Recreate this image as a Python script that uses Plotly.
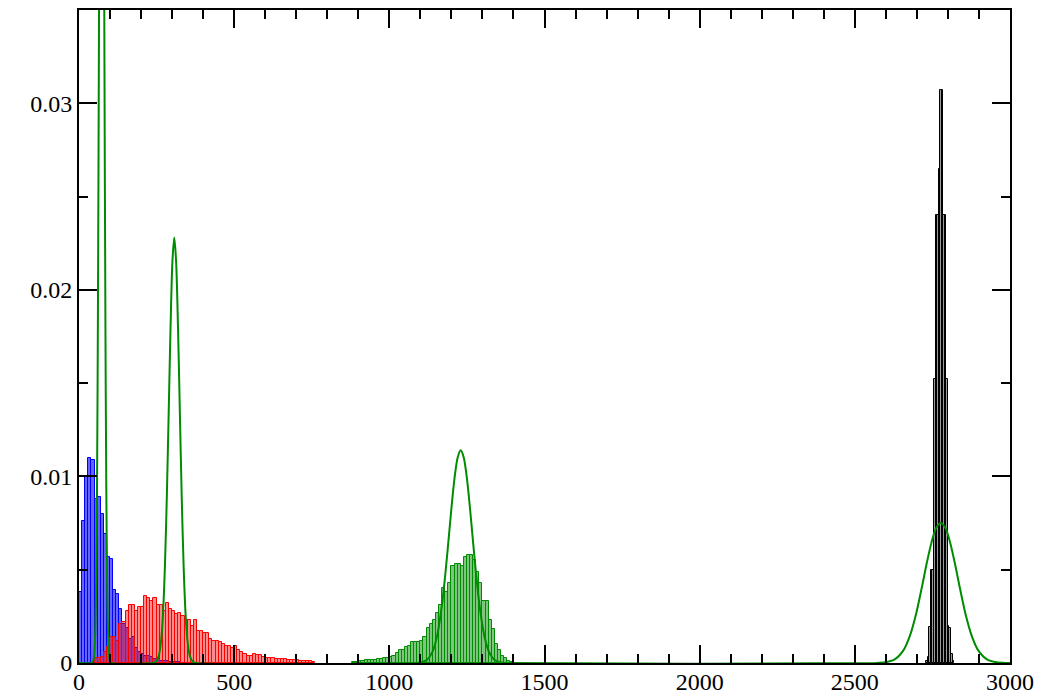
import numpy as np
import plotly.graph_objects as go

# ---------------- data ----------------
blue_start, blue_width = 0, 10
blue_vals = [0.0038, 0.0076, 0.0100, 0.0110, 0.0109, 0.0088, 0.0089, 0.0080, 0.0069, 0.0057,
             0.0056, 0.0039, 0.0037, 0.0029, 0.0021, 0.0019, 0.0013, 0.0014, 0.0008, 0.0006,
             0.0005, 0.0004, 0.0004, 0.0003, 0.0002, 0.0002, 0.0001, 0.0001, 0.0001, 0.00005,
             0.00005, 0.00003, 0.00003, 0.00002]

red_start, red_width = 50, 10
red_vals = [0.00025, 0.00025, 0.00034, 0.0006, 0.00088, 0.0014, 0.0014, 0.0012, 0.0021, 0.0022,
            0.0028, 0.0031, 0.0031, 0.0028, 0.0030, 0.0030, 0.0036, 0.0035, 0.0033, 0.0035,
            0.0031, 0.0031, 0.0028, 0.0032, 0.0029, 0.0028, 0.0026, 0.0027, 0.0025, 0.0023,
            0.0023, 0.0020, 0.0023, 0.0017, 0.0017, 0.0016, 0.0016, 0.0013, 0.0012, 0.0012,
            0.0011, 0.0010, 0.0009, 0.0009, 0.0008, 0.0009, 0.0007, 0.0006, 0.0005, 0.0004,
            0.0004, 0.0005, 0.00045, 0.00045, 0.0003, 0.00025, 0.00025, 0.00025, 0.0002, 0.0002,
            0.0002, 0.0002, 0.00015, 0.00014, 0.00014, 0.00014, 0.00012, 0.0001, 0.0001, 0.0001,
            0.00005]

green_start, green_width = 880, 10
green_vals = [0.00005, 0.00005, 0.0001, 0.0001, 0.00015, 0.00016, 0.00016, 0.00016, 0.0002, 0.0002,
              0.00025, 0.00025, 0.0003, 0.0004, 0.00055, 0.0007, 0.0007, 0.00084, 0.0009, 0.0011,
              0.00114, 0.00114, 0.0012, 0.0014, 0.0019, 0.0021, 0.0023, 0.0027, 0.0031, 0.0040,
              0.0038, 0.0043, 0.0052, 0.0053, 0.0053, 0.0052, 0.0057, 0.0058, 0.0058, 0.0055,
              0.0049, 0.0043, 0.0033, 0.0033, 0.0023, 0.0018, 0.0010, 0.0007, 0.0004, 0.00025,
              0.0001, 0.00005]

black_start, black_width = 2730, 5
black_vals = [0.0001, 0.0003, 0.00195, 0.0050, 0.0050, 0.0152, 0.0240, 0.0240, 0.0265, 0.0307,
              0.0307, 0.0240, 0.0240, 0.0152, 0.0020, 0.0019, 0.0005, 0.0001]

curve_a_x = [0, 41, 46, 49, 52, 55, 58, 61, 64, 67, 70, 73, 76, 79, 82, 85, 88, 91, 94, 97, 100, 105]
curve_a_y = [0, 0.00001, 0.00012, 0.00044, 0.00143, 0.00393, 0.00927, 0.0187, 0.0322, 0.0476, 0.0601,
             0.065, 0.0601, 0.0476, 0.0322, 0.0187, 0.00927, 0.00393, 0.00143, 0.00044, 0.00012, 0.00001]

curve_b_x = [237, 247, 257, 265, 271, 277, 283, 289, 295, 301, 307, 313, 319, 325, 331, 337,
             343, 349, 357, 367, 377]
curve_b_y = [0, 0.000064, 0.000385, 0.00128, 0.00275, 0.00525, 0.0089, 0.01343, 0.0180, 0.0215, 0.0228,
             0.0215, 0.0180, 0.01343, 0.0089, 0.00525, 0.00275, 0.00128, 0.000385, 0.000064, 0]

curve_c_x = [1080, 1100, 1120, 1140, 1155, 1170, 1180, 1190, 1200, 1210, 1220, 1230, 1240, 1250,
             1260, 1270, 1280, 1290, 1305, 1320, 1340, 1360, 1380]
curve_c_y = [0, 0.000028, 0.000155, 0.00064, 0.00154, 0.00317, 0.00469, 0.00645, 0.00828, 0.00989,
             0.0110, 0.0114, 0.0110, 0.00989, 0.00828, 0.00645, 0.00469, 0.00317, 0.00154, 0.00064,
             0.000155, 0.000028, 0]

curve_d_x = [2567, 2597, 2627, 2657, 2677, 2697, 2717, 2732, 2747, 2762, 2777, 2792, 2807, 2822,
             2837, 2857, 2877, 2897, 2927, 2957, 2987, 3000]
curve_d_y = [0, 0.000035, 0.00018, 0.00069, 0.00144, 0.0026, 0.00414, 0.00537, 0.00646, 0.00723, 0.0075,
             0.00723, 0.00646, 0.00537, 0.00414, 0.0026, 0.00144, 0.00069, 0.00018, 0.000035, 0, 0]

# ---------------- figure ----------------
fig = go.Figure()


def add_hist(start, width, vals, fill, line):
    centers = start + width * (np.arange(len(vals)) + 0.5)
    fig.add_trace(go.Bar(
        x=centers, y=vals, width=width,
        marker=dict(color=fill, line=dict(color=line, width=1)),
        hoverinfo="skip",
    ))


add_hist(blue_start, blue_width, blue_vals, "rgba(0,0,255,0.6)", "#0000ff")
add_hist(red_start, red_width, red_vals, "rgba(255,0,0,0.45)", "#ff0000")
add_hist(green_start, green_width, green_vals, "rgba(0,140,0,0.5)", "#008c00")
add_hist(black_start, black_width, black_vals, "rgba(90,90,90,0.6)", "#000000")

curve_x = curve_a_x + curve_b_x + curve_c_x + curve_d_x
curve_y = curve_a_y + curve_b_y + curve_c_y + curve_d_y
fig.add_trace(go.Scatter(
    x=curve_x, y=curve_y, mode="lines",
    line=dict(color="#008c00", width=2, shape="spline", smoothing=0.8),
    hoverinfo="skip",
))

axis_common = dict(
    showgrid=False, zeroline=False, automargin=False,
    showline=True, linecolor="black", linewidth=2, mirror="allticks",
    ticks="inside", ticklen=18, tickwidth=1.5, tickcolor="black",
    tickfont=dict(family="Liberation Serif", size=24, color="black"),
)

fig.update_xaxes(range=[0, 3000], tick0=0, dtick=500, ticklabelstandoff=-4,
                 minor=dict(dtick=100, ticks="inside", ticklen=9, tickwidth=1.5,
                            tickcolor="black", showgrid=False),
                 **axis_common)
fig.update_yaxes(range=[0, 0.035], tick0=0, dtick=0.01,
                 minor=dict(dtick=0.005, ticks="inside", ticklen=9, tickwidth=1.5,
                            tickcolor="black", showgrid=False),
                 **axis_common)

# the page body adds an 8px offset; compensate so the plot area lands at 79..1010 x 10..663
fig.update_layout(
    width=1056, height=688,
    margin=dict(l=71, r=54, t=2, b=33),
    plot_bgcolor="white", paper_bgcolor="white",
    showlegend=False, barmode="overlay", bargap=0,
    font=dict(family="Liberation Serif", size=24, color="black"),
)

fig.write_html("out.html")
